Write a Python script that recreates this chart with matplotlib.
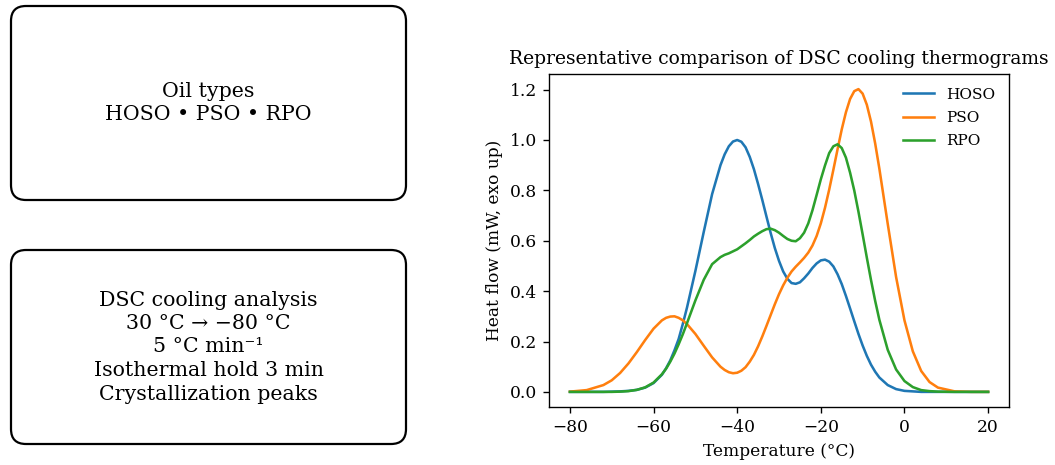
import matplotlib
matplotlib.use("Agg")
import matplotlib.pyplot as plt
from matplotlib.patches import FancyBboxPatch

plt.rcParams['font.family'] = ['DejaVu Serif']

# temperature grid (°C) and heat flow
temperature = [-80, -76, -72, -70, -68, -66, -64, -62, -60, -58,
               -57, -56, -55, -54, -53, -52, -50, -48, -46, -44,
               -43, -42, -41, -40, -39, -38, -37, -36, -35, -34,
               -33, -32, -31, -30, -29, -28, -27, -26, -25, -24,
               -23, -22, -21, -20, -19, -18, -17, -16, -15, -14,
               -13, -12, -11, -10, -9, -8, -7, -6, -4, -2,
               0, 2, 4, 6, 8, 12, 16, 20]

hoso = [0.000, 0.000, 0.000, 0.001, 0.002, 0.004, 0.008, 0.017, 0.035, 0.068,
        0.094, 0.125, 0.165, 0.210, 0.270, 0.335, 0.480, 0.635, 0.785, 0.900,
        0.943, 0.975, 0.994, 1.000, 0.993, 0.971, 0.933, 0.884, 0.825, 0.762,
        0.696, 0.631, 0.571, 0.520, 0.478, 0.449, 0.432, 0.429, 0.435, 0.451,
        0.470, 0.492, 0.510, 0.522, 0.525, 0.517, 0.498, 0.467, 0.428, 0.381,
        0.331, 0.280, 0.230, 0.184, 0.143, 0.108, 0.080, 0.057, 0.027, 0.011,
        0.004, 0.002, 0.000, 0.000, 0.000, 0.000, 0.000, 0.000]

pso = [0.001, 0.007, 0.027, 0.046, 0.075, 0.113, 0.158, 0.206, 0.251, 0.284,
       0.294, 0.299, 0.300, 0.294, 0.284, 0.269, 0.230, 0.183, 0.137, 0.100,
       0.087, 0.078, 0.074, 0.076, 0.084, 0.098, 0.120, 0.147, 0.181, 0.220,
       0.262, 0.305, 0.348, 0.388, 0.423, 0.453, 0.478, 0.497, 0.514, 0.532,
       0.553, 0.581, 0.619, 0.669, 0.731, 0.803, 0.882, 0.963, 1.042, 1.110,
       1.163, 1.194, 1.202, 1.184, 1.140, 1.073, 0.986, 0.886, 0.667, 0.456,
       0.284, 0.161, 0.083, 0.039, 0.017, 0.002, 0.000, 0.000]

rpo = [0.000, 0.000, 0.000, 0.000, 0.001, 0.003, 0.008, 0.018, 0.037, 0.070,
       0.092, 0.120, 0.152, 0.189, 0.229, 0.273, 0.363, 0.445, 0.507, 0.535,
       0.544, 0.550, 0.558, 0.566, 0.578, 0.590, 0.603, 0.617, 0.628, 0.638,
       0.646, 0.648, 0.642, 0.632, 0.619, 0.607, 0.600, 0.598, 0.610, 0.632,
       0.669, 0.721, 0.782, 0.844, 0.899, 0.948, 0.975, 0.983, 0.968, 0.930,
       0.870, 0.799, 0.715, 0.625, 0.533, 0.444, 0.361, 0.286, 0.167, 0.089,
       0.043, 0.019, 0.007, 0.003, 0.001, 0.000, 0.000, 0.000]

series = {'HOSO': hoso, 'PSO': pso, 'RPO': rpo}

box_texts = [
    "Oil types\nHOSO \u2022 PSO \u2022 RPO",
    "DSC cooling analysis\n30 \u00b0C \u2192 \u221280 \u00b0C\n5 \u00b0C min\u207b\u00b9\n"
    "Isothermal hold 3 min\nCrystallization peaks",
]

DPI = 122.7
fig = plt.figure(figsize=(1055 / DPI, 465 / DPI), dpi=DPI)

# left panel in pixel units so the rounded corners stay round
ax_l = fig.add_axes([0, 0, 0.39, 1])
ax_l.set_xlim(0, 0.39 * 1055)
ax_l.set_ylim(465, 0)
ax_l.axis('off')

for (top, bottom), txt in zip([(6, 200), (250, 444)], box_texts):
    box = FancyBboxPatch((11, top), 395, bottom - top,
                         boxstyle="round,pad=0,rounding_size=15",
                         fc='white', ec='black', lw=1.3)
    ax_l.add_patch(box)
    ax_l.text(11 + 395 / 2, (top + bottom) / 2, txt, ha='center', va='center',
              fontsize=12, multialignment='center', linespacing=1.3)

# thermogram panel
ax = fig.add_axes([0.5204, 0.1247, 0.436, 0.7162])
for name, vals in series.items():
    ax.plot(temperature, vals, label=name)

ax.set_title('Representative comparison of DSC cooling thermograms', fontsize=11)
ax.set_xlabel('Temperature (\u00b0C)')
ax.set_ylabel('Heat flow (mW, exo up)')
ax.legend(loc='upper right', frameon=False, fontsize=9, labelspacing=0.6)

fig.savefig('out.png', dpi=DPI)
